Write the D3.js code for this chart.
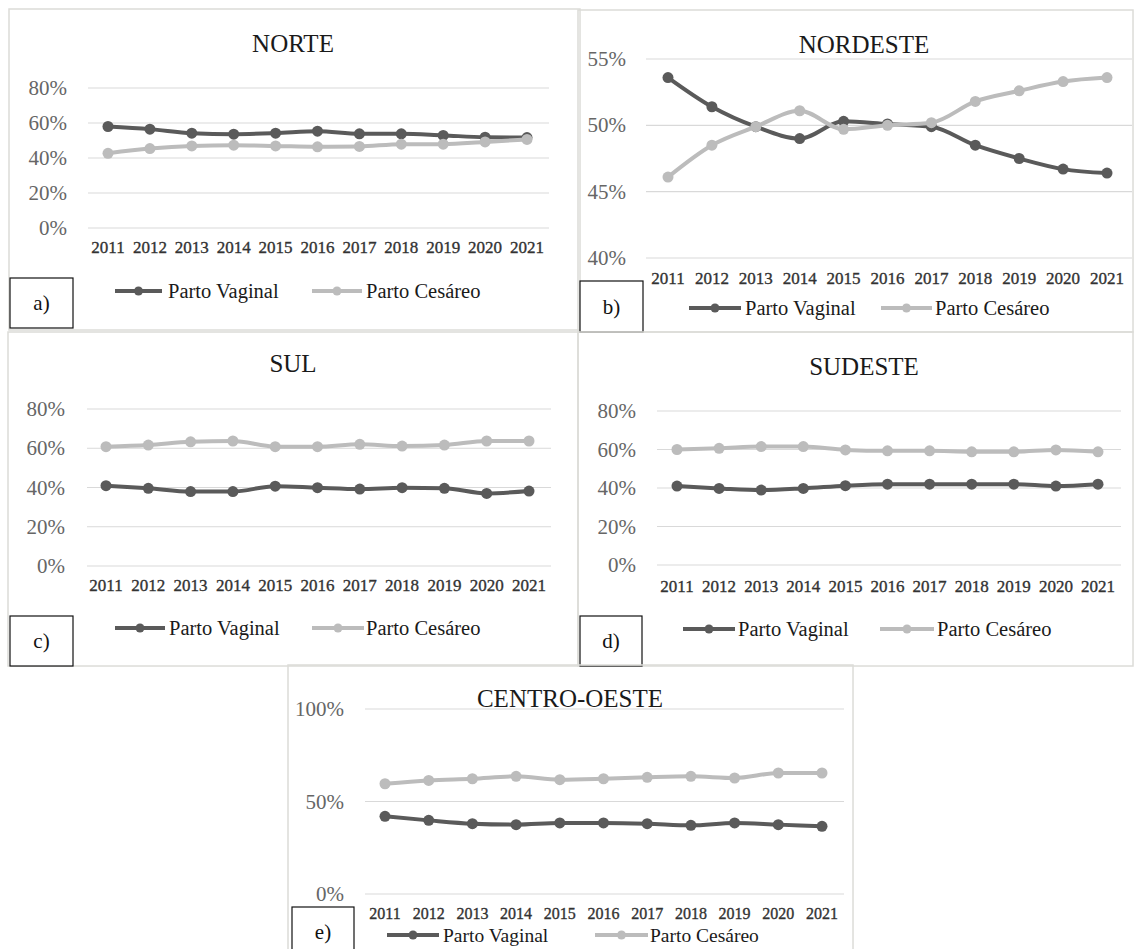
<!DOCTYPE html>
<html>
<head>
<meta charset="utf-8">
<script src="https://cdn.jsdelivr.net/npm/d3@7"></script>
<style>
  body { margin: 0; background: #fff; }
  svg text { font-family: "Liberation Serif", "Times New Roman", serif; }
</style>
</head>
<body>
<div id="chart"></div>
<script>
/* data (percent of births) */
var years = [2011, 2012, 2013, 2014, 2015, 2016, 2017, 2018, 2019, 2020, 2021];
var regions = ["NORTE", "NORDESTE", "SUL", "SUDESTE", "CENTRO-OESTE"];
var panelLabels = ["a)", "b)", "c)", "d)", "e)"];
var seriesNames = ["Parto Vaginal", "Parto Cesáreo"];

var vaginalNorte    = [58.0, 56.5, 54.2, 53.6, 54.2, 55.3, 53.8, 53.8, 52.9, 51.9, 51.7];
var cesareoNorte    = [42.7, 45.4, 46.9, 47.3, 46.9, 46.4, 46.6, 47.9, 47.9, 49.2, 50.6];
var vaginalNordeste = [53.6, 51.4, 49.9, 49.0, 50.3, 50.1, 49.9, 48.5, 47.5, 46.7, 46.4];
var cesareoNordeste = [46.1, 48.5, 49.9, 51.1, 49.7, 50.0, 50.2, 51.8, 52.6, 53.3, 53.6];
var vaginalSul      = [40.9, 39.6, 37.9, 37.9, 40.7, 39.9, 39.2, 39.9, 39.6, 37.0, 38.2];
var cesareoSul      = [60.8, 61.6, 63.3, 63.7, 60.8, 60.8, 62.0, 61.1, 61.6, 63.7, 63.7];
var vaginalSudeste  = [41.0, 39.8, 38.9, 39.8, 41.2, 42.0, 42.0, 42.0, 42.0, 41.0, 42.0];
var cesareoSudeste  = [60.0, 60.6, 61.5, 61.5, 59.8, 59.3, 59.3, 58.8, 58.8, 59.8, 58.8];
var vaginalCentro   = [42.0, 39.8, 38.0, 37.5, 38.4, 38.4, 38.0, 37.1, 38.4, 37.5, 36.6];
var cesareoCentro   = [59.6, 61.4, 62.3, 63.6, 61.8, 62.3, 63.1, 63.6, 62.7, 65.4, 65.4];

var ticksDefault  = [0, 20, 40, 60, 80];
var ticksNordeste = [40, 45, 50, 55];
var ticksCentro   = [0, 50, 100];

var vaginalSeries = [vaginalNorte, vaginalNordeste, vaginalSul, vaginalSudeste, vaginalCentro];
var cesareoSeries = [cesareoNorte, cesareoNordeste, cesareoSul, cesareoSudeste, cesareoCentro];
var tickSets      = [ticksDefault, ticksNordeste, ticksDefault, ticksDefault, ticksCentro];

/* page size and styles */
var width = 1135, height = 949;
var darkColor = "#5a5a5a", lightColor = "#bcbcbc", gridColor = "#d9d9d9";

/* where each panel sits on the page */
var layout = [
  { box: [9, 9, 580, 330], plotX: [108, 527], gridX: [88, 549], plotY: [228, 88], yLabelX: 67,
    yearY: 247, yearSize: 17, title: [293, 43], legendY: 291, legendSize: 20.5,
    legend: [115, 162, 168, 312, 362, 366], tag: [10, 278, 73, 328] },
  { box: [578, 10, 1133, 332], plotX: [668, 1107], gridX: [646, 1132], plotY: [258, 59], yLabelX: 626,
    yearY: 278, yearSize: 17, title: [864, 44], legendY: 308, legendSize: 20.5,
    legend: [689, 741, 745, 881, 932, 935], tag: [580, 281, 643, 332] },
  { box: [8, 332, 578, 666], plotX: [106, 529], gridX: [87, 551], plotY: [566, 409], yLabelX: 65,
    yearY: 585, yearSize: 17, title: [293, 363], legendY: 628, legendSize: 20.5,
    legend: [115, 165, 169, 312, 364, 366], tag: [10, 616, 73, 666] },
  { box: [578, 332, 1133, 666], plotX: [677, 1098], gridX: [657, 1121], plotY: [565, 411], yLabelX: 636,
    yearY: 586, yearSize: 17, title: [864, 366], legendY: 629, legendSize: 20.5,
    legend: [683, 735, 738, 880, 934, 937], tag: [580, 616, 642, 666] },
  { box: [288, 665, 853, 970], plotX: [385, 822], gridX: [365, 844], plotY: [894, 709], yLabelX: 344,
    yearY: 913, yearSize: 16, title: [570, 698], legendY: 935, legendSize: 19.5,
    legend: [387, 439, 443, 595, 648, 650], tag: [292, 907, 354, 970] }
];

var svg = d3.select("#chart")
  .append("svg")
    .attr("width", width)
    .attr("height", height);

function drawPanel(i) {
  var L = layout[i];
  var ticks = tickSets[i];
  var g = svg.append("g");

  /* panel frame */
  g.append("rect")
    .attr("x", L.box[0]).attr("y", L.box[1])
    .attr("width", L.box[2] - L.box[0]).attr("height", L.box[3] - L.box[1])
    .style("fill", "none").style("stroke", "#dcdcd8").attr("stroke-width", 1.5);

  var x = d3.scaleLinear().domain([years[0], years[years.length - 1]]).range(L.plotX);
  var y = d3.scaleLinear().domain([ticks[0], ticks[ticks.length - 1]]).range(L.plotY);

  /* gridlines */
  g.selectAll(".grid").data(ticks).enter().append("line")
    .attr("x1", L.gridX[0]).attr("x2", L.gridX[1])
    .attr("y1", function(d) { return y(d); }).attr("y2", function(d) { return y(d); })
    .style("stroke", gridColor).attr("stroke-width", 1.2);

  /* y labels */
  g.selectAll(".ylab").data(ticks).enter().append("text")
    .attr("x", L.yLabelX).attr("y", function(d) { return y(d); })
    .attr("text-anchor", "end").attr("dominant-baseline", "central")
    .style("font-size", "21px").style("fill", "#666")
    .text(function(d) { return d + "%"; });

  /* year labels */
  g.selectAll(".xlab").data(years).enter().append("text")
    .attr("x", function(d) { return x(d); }).attr("y", L.yearY)
    .attr("text-anchor", "middle").attr("dominant-baseline", "central")
    .style("font-size", L.yearSize + "px").style("fill", "#333")
    .style("stroke", "#333").style("stroke-width", "0.35px")
    .text(function(d) { return d; });

  /* title */
  g.append("text")
    .attr("x", L.title[0]).attr("y", L.title[1])
    .attr("text-anchor", "middle").attr("dominant-baseline", "central")
    .style("font-size", "25px").style("fill", "#1a1a1a")
    .text(regions[i]);

  /* series lines and markers */
  var line = d3.line()
    .x(function(d, j) { return x(years[j]); })
    .y(function(d) { return y(d); })
    .curve(d3.curveMonotoneX);

  [[vaginalSeries[i], darkColor], [cesareoSeries[i], lightColor]].forEach(function(s) {
    g.append("path").datum(s[0])
      .attr("d", line)
      .style("fill", "none").style("stroke", s[1]).attr("stroke-width", 4);
    g.selectAll(null).data(s[0]).enter().append("circle")
      .attr("cx", function(d, j) { return x(years[j]); })
      .attr("cy", function(d) { return y(d); })
      .attr("r", 5.5)
      .style("fill", s[1]);
  });

  /* legend */
  var lg = L.legend;
  [[lg[0], lg[1], lg[2], darkColor, seriesNames[0]], [lg[3], lg[4], lg[5], lightColor, seriesNames[1]]].forEach(function(e) {
    g.append("line")
      .attr("x1", e[0]).attr("x2", e[1]).attr("y1", L.legendY).attr("y2", L.legendY)
      .style("stroke", e[3]).attr("stroke-width", 4);
    g.append("circle")
      .attr("cx", (e[0] + e[1]) / 2).attr("cy", L.legendY).attr("r", 4.5)
      .style("fill", e[3]);
    g.append("text")
      .attr("x", e[2]).attr("y", L.legendY)
      .attr("dominant-baseline", "central")
      .style("font-size", L.legendSize + "px").style("fill", "#1a1a1a")
      .text(e[4]);
  });

  /* panel letter box */
  g.append("rect")
    .attr("x", L.tag[0]).attr("y", L.tag[1])
    .attr("width", L.tag[2] - L.tag[0]).attr("height", L.tag[3] - L.tag[1])
    .style("fill", "#fff").style("stroke", "#111").attr("stroke-width", 1.2);
  g.append("text")
    .attr("x", (L.tag[0] + L.tag[2]) / 2).attr("y", (L.tag[1] + Math.min(L.tag[3], height)) / 2 + (L.tag[3] > height ? 4 : 0))
    .attr("text-anchor", "middle").attr("dominant-baseline", "central")
    .style("font-size", "21px").style("fill", "#111")
    .text(panelLabels[i]);
}

for (var i = 0; i < regions.length; i++) drawPanel(i);
</script>
</body>
</html>
